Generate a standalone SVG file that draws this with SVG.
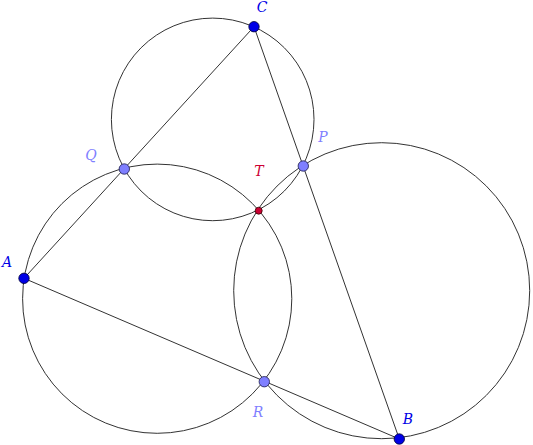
<svg xmlns="http://www.w3.org/2000/svg" width="533" height="445" viewBox="0 0 533 445">
<style>
.c{fill:none;stroke:#333;stroke-width:1}
.l{stroke:#333;stroke-width:1}
.pb{fill:#0000e6;stroke:#000033;stroke-width:0.8}
.pl{fill:#7f7fff;stroke:#1a1a4d;stroke-width:0.8}
.pt{fill:#cc0033;stroke:#330000;stroke-width:0.8}
text{font-family:"DejaVu Serif","Liberation Serif",serif;font-style:italic;font-size:14px;text-anchor:middle}
.tb{fill:#0000e6}
.tl{fill:#7f7fff}
.tt{fill:#cc0033}
</style>
<rect width="533" height="445" fill="#fff"/>
<g id="connectors">
<circle class="c" cx="212.7" cy="119.4" r="101.3"/>
<circle class="c" cx="157.2" cy="298.7" r="134.6"/>
<circle class="c" cx="381.7" cy="290.7" r="148"/>
<line class="l" x1="24" y1="278.3" x2="254" y2="26.7"/>
<line class="l" x1="254" y1="26.7" x2="399.3" y2="439"/>
<line class="l" x1="24" y1="278.3" x2="399.3" y2="439"/>
</g>
<g id="C"><circle class="pb" cx="254" cy="26.7" r="5.2"/><text class="tb" x="262" y="12">C</text></g>
<g id="Q"><circle class="pl" cx="124.3" cy="169" r="5.2"/><text class="tl" x="91" y="160">Q</text></g>
<g id="P"><circle class="pl" cx="303.3" cy="166" r="5.2"/><text class="tl" x="323" y="142">P</text></g>
<g id="T"><circle class="pt" cx="258.7" cy="210.7" r="3.5"/><text class="tt" x="259" y="176">T</text></g>
<g id="A"><circle class="pb" cx="24" cy="278.3" r="5.2"/><text class="tb" x="7" y="267">A</text></g>
<g id="R"><circle class="pl" cx="264.3" cy="381.7" r="5.2"/><text class="tl" x="258" y="417">R</text></g>
<g id="B"><circle class="pb" cx="399.3" cy="439" r="5.2"/><text class="tb" x="408" y="424">B</text></g>
</svg>
